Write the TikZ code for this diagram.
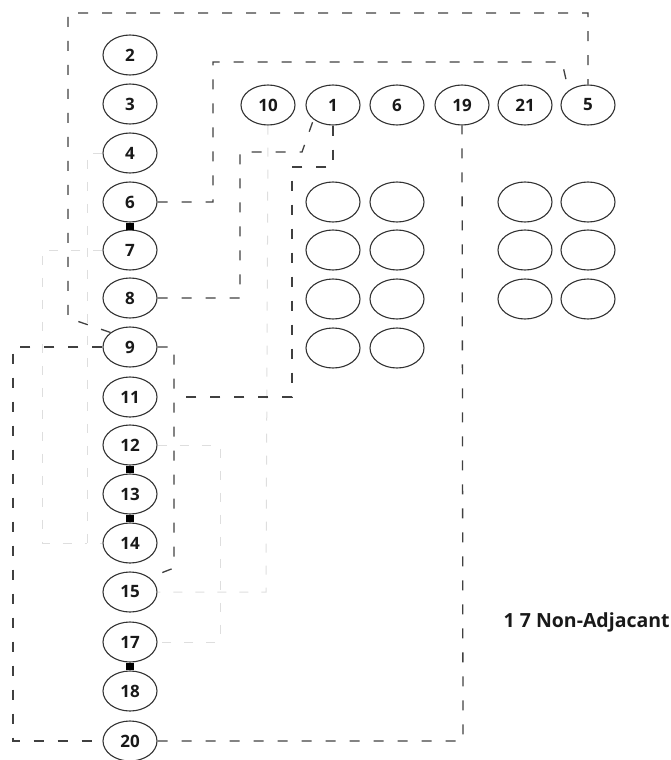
\documentclass[tikz,border=0pt]{standalone}
\usepackage{fontspec}
\setmainfont{Open Sans}
\usetikzlibrary{shapes.geometric}
\tikzset{
  num/.style={ellipse,draw=black!80,line width=1.1pt,minimum width=54pt,minimum height=40pt,
    inner sep=0pt,font=\fontsize{17}{17}\selectfont\bfseries,text=black!90},
  joint/.style={fill=black,minimum width=8pt,minimum height=7pt,inner sep=0pt},
  link/.style={dash pattern=on 10pt off 14pt,line width=1.3pt,black!75},
  ghost/.style={dash pattern=on 9pt off 13pt,line width=1pt,black!13}
}
\begin{document}
\begin{tikzpicture}[x=1pt,y=-1pt,semithick]
\useasboundingbox (0,0) rectangle (671,760);
\foreach \n/\y in {2/55,3/104,4/153,6/202,7/250,8/298,9/347,11/397,12/445,13/494,14/543,15/592,17/642,18/691,20/741}
  \node[num] (L\n) at (130,\y) {\n};
\foreach \n/\x in {10/268,1/333,6/397,19/462,21/525,5/588}
  \node[num] (T\n) at (\x,105) {\n};
\foreach \x in {333,397} \foreach \y in {202,250,299,348} \node[num] at (\x,\y) {};
\foreach \x in {525,588} \foreach \y in {202,250,299} \node[num] at (\x,\y) {};
\foreach \a/\b in {6/7,12/13,13/14,17/18} \path (L\a) -- (L\b) node[midway,joint] {};
\draw[ghost] (L4.west) -- (87,153) -- (87,543) -- (L14.west);
\draw[ghost] (L7.west) -- (42,250) -- (42,543) -- (87,543);
\draw[ghost] (L12.east) -- (220,445) -- (220,642) -- (L17.east);
\draw[ghost] (T10.south) -- (266,592) -- (L15.east);
\draw[link] (L9.north west) -- (68,318) -- (68,13) -- (588,13) -- (T5.north);
\draw[link] (L6.east) -- (213,202) -- (213,62) -- (562,62) -- (T5.north west);
\draw[link] (L8.east) -- (240,298) -- (240,152) -- (302,152) -- (T1.south west);
\draw[link] (T1.south) -- (333,167) -- (292,167) -- (292,397) -- (174,397);
\draw[link] (L9.east) -- (174,347) -- (174,568) -- (L15.north east);
\draw[link] (L9.west) -- (13,347) -- (13,741) -- (L20.west);
\draw[link] (L20.east) -- (463,741) -- (T19.south);
\node[font=\fontsize{19.5}{21}\selectfont\bfseries,text=black!90,anchor=west] (note) at (500,622) {1 7 Non-Adjacant};
\end{tikzpicture}
\end{document}
